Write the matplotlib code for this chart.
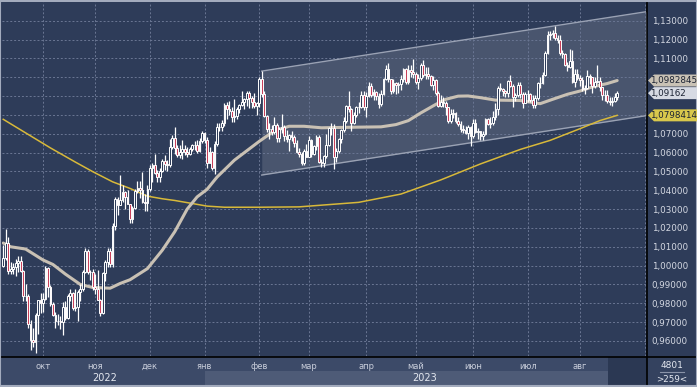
import matplotlib
matplotlib.use("Agg")
import matplotlib.pyplot as plt
from matplotlib.patches import Rectangle, Polygon

# daily EUR/USD candles, 9 Sep 2022 .. 22 Aug 2023 (index = trading day)
first_open = 1.0000
closes = [
    1.0042, 1.0120, 0.9970, 0.9980, 0.9995, 1.0015, 1.0025, 0.9970, 0.9840, 0.9837, 0.9690, 0.9607, 0.9595, 0.9736, 0.9815, 0.9802,
    0.9825, 0.9988, 0.9885, 0.9795, 0.9740, 0.9705, 0.9707, 0.9702, 0.9780, 0.9722, 0.9840, 0.9857, 0.9776, 0.9781, 0.9861, 0.9877, 0.9964, 1.0078, 0.9965, 0.9965, 0.9884,
    0.9876, 0.9820, 0.9750, 0.9960, 1.0020, 1.0075, 1.0010, 1.0210, 1.0355, 1.0324, 1.0350, 1.0390, 1.0363, 1.0325, 1.0245, 1.0305, 1.0397, 1.0410, 1.0400, 1.0340, 1.0330, 1.0405,
    1.0520, 1.0535, 1.0490, 1.0468, 1.0505, 1.0555, 1.0540, 1.0535, 1.0630, 1.0680, 1.0625, 1.0585, 1.0605, 1.0620, 1.0605, 1.0595, 1.0620, 1.0640, 1.0640, 1.0610, 1.0660, 1.0705,
    1.0665, 1.0545, 1.0605, 1.0520, 1.0645, 1.0735, 1.0735, 1.0760, 1.0855, 1.0830, 1.0820, 1.0790, 1.0795, 1.0830, 1.0855, 1.0870, 1.0885, 1.0915, 1.0890, 1.0870, 1.0850, 1.0865,
    1.0990, 1.0910, 1.0795, 1.0725, 1.0725, 1.0710, 1.0745, 1.0680, 1.0725, 1.0735, 1.0690, 1.0675, 1.0695, 1.0685, 1.0650, 1.0605, 1.0595, 1.0545, 1.0610, 1.0575,
    1.0665, 1.0595, 1.0635, 1.0685, 1.0550, 1.0545, 1.0580, 1.0640, 1.0730, 1.0730, 1.0575, 1.0610, 1.0670, 1.0720, 1.0770, 1.0850, 1.0830, 1.0760, 1.0800, 1.0845, 1.0840, 1.0905, 1.0840,
    1.0900, 1.0955, 1.0905, 1.0920, 1.0900, 1.0860, 1.0910, 1.0990, 1.1045, 1.0990, 1.0925, 1.0970, 1.0960, 1.0965, 1.0990, 1.1045, 1.0975, 1.1040, 1.1030, 1.1020,
    1.0975, 1.0995, 1.1065, 1.1010, 1.1020, 1.1005, 1.0960, 1.0985, 1.0915, 1.0850, 1.0870, 1.0865, 1.0840, 1.0770, 1.0805, 1.0810, 1.0770, 1.0750, 1.0725, 1.0720, 1.0705, 1.0735, 1.0690,
    1.0760, 1.0710, 1.0715, 1.0690, 1.0700, 1.0780, 1.0750, 1.0755, 1.0790, 1.0830, 1.0945, 1.0940, 1.0925, 1.0915, 1.0980, 1.0955, 1.0895, 1.0905, 1.0960, 1.0910, 1.0865, 1.0910,
    1.0910, 1.0880, 1.0855, 1.0890, 1.0970, 1.0970, 1.1010, 1.1130, 1.1225, 1.1230, 1.1235, 1.1210, 1.1200, 1.1130, 1.1125, 1.1065, 1.1055, 1.1085, 1.0975, 1.1015, 1.0995,
    1.0985, 1.0940, 1.0945, 1.1005, 1.1000, 1.0955, 1.0975, 1.0980, 1.0950, 1.0905, 1.0905, 1.0875, 1.0870, 1.0875, 1.0895, 1.0916,
]
highs = [
    1.0110, 1.0197, 1.0150, 1.0020, 1.0015, 1.0035, 1.0050, 1.0050, 0.9975, 0.9905, 0.9850, 0.9710, 0.9670, 0.9750, 0.9820, 0.9855,
    0.9855, 0.9999, 0.9995, 0.9895, 0.9805, 0.9755, 0.9745, 0.9730, 0.9806, 0.9810, 0.9850, 0.9875, 0.9860, 0.9875, 0.9870, 0.9900, 0.9975, 1.0093, 1.0088, 0.9975, 0.9980,
    0.9955, 0.9975, 0.9825, 0.9965, 1.0030, 1.0095, 1.0095, 1.0225, 1.0365, 1.0365, 1.0481, 1.0430, 1.0395, 1.0400, 1.0325, 1.0315, 1.0405, 1.0450, 1.0450, 1.0495, 1.0380, 1.0430,
    1.0535, 1.0545, 1.0595, 1.0510, 1.0520, 1.0565, 1.0590, 1.0560, 1.0673, 1.0695, 1.0736, 1.0640, 1.0640, 1.0665, 1.0640, 1.0630, 1.0630, 1.0645, 1.0660, 1.0665, 1.0680, 1.0715,
    1.0710, 1.0685, 1.0630, 1.0610, 1.0660, 1.0760, 1.0760, 1.0775, 1.0865, 1.0870, 1.0875, 1.0845, 1.0887, 1.0845, 1.0860, 1.0925, 1.0890, 1.0925, 1.0930, 1.0900, 1.0915, 1.0870,
    1.1000, 1.1033, 1.0925, 1.0800, 1.0760, 1.0745, 1.0790, 1.0760, 1.0735, 1.0805, 1.0745, 1.0720, 1.0700, 1.0715, 1.0695, 1.0665, 1.0625, 1.0605, 1.0620, 1.0645,
    1.0690, 1.0670, 1.0640, 1.0695, 1.0695, 1.0565, 1.0590, 1.0700, 1.0735, 1.0760, 1.0750, 1.0625, 1.0680, 1.0725, 1.0790, 1.0855, 1.0930, 1.0835, 1.0815, 1.0850, 1.0870, 1.0925, 1.0925,
    1.0920, 1.0973, 1.0970, 1.0940, 1.0925, 1.0915, 1.0935, 1.0995, 1.1065, 1.1075, 1.0990, 1.0990, 1.0975, 1.0975, 1.1010, 1.1050, 1.1050, 1.1065, 1.1065, 1.1095,
    1.1030, 1.1015, 1.1075, 1.1092, 1.1055, 1.1055, 1.1010, 1.1005, 1.0990, 1.0925, 1.0905, 1.0895, 1.0875, 1.0845, 1.0830, 1.0830, 1.0815, 1.0790, 1.0770, 1.0745, 1.0740, 1.0745, 1.0740,
    1.0780, 1.0780, 1.0730, 1.0715, 1.0715, 1.0785, 1.0785, 1.0790, 1.0820, 1.0865, 1.0955, 1.0970, 1.0945, 1.0935, 1.0985, 1.1010, 1.0965, 1.0915, 1.0975, 1.0975, 1.0920, 1.0920,
    1.0935, 1.0915, 1.0905, 1.0905, 1.0975, 1.1000, 1.1030, 1.1140, 1.1245, 1.1245, 1.1250, 1.1275, 1.1225, 1.1225, 1.1145, 1.1130, 1.1080, 1.1150, 1.1145, 1.1045, 1.1045,
    1.1010, 1.1000, 1.0960, 1.1040, 1.1020, 1.1000, 1.1000, 1.1065, 1.1000, 1.0950, 1.0935, 1.0935, 1.0895, 1.0895, 1.0915, 1.0925,
]
lows = [
    0.9990, 1.0030, 0.9955, 0.9955, 0.9955, 0.9945, 0.9965, 0.9965, 0.9810, 0.9810, 0.9670, 0.9550, 0.9570, 0.9536, 0.9635, 0.9750,
    0.9755, 0.9815, 0.9835, 0.9785, 0.9730, 0.9670, 0.9685, 0.9665, 0.9632, 0.9710, 0.9715, 0.9810, 0.9765, 0.9760, 0.9705, 0.9810, 0.9865, 0.9960, 0.9955, 0.9925, 0.9870,
    0.9850, 0.9815, 0.9730, 0.9745, 0.9920, 0.9995, 0.9990, 0.9990, 1.0190, 1.0270, 1.0320, 1.0340, 1.0300, 1.0325, 1.0225, 1.0225, 1.0300, 1.0385, 1.0360, 1.0330, 1.0290, 1.0290,
    1.0395, 1.0445, 1.0485, 1.0445, 1.0445, 1.0495, 1.0510, 1.0505, 1.0525, 1.0620, 1.0595, 1.0575, 1.0570, 1.0565, 1.0585, 1.0575, 1.0585, 1.0610, 1.0615, 1.0600, 1.0605, 1.0650,
    1.0650, 1.0520, 1.0545, 1.0510, 1.0485, 1.0635, 1.0715, 1.0715, 1.0740, 1.0780, 1.0800, 1.0765, 1.0765, 1.0780, 1.0810, 1.0850, 1.0830, 1.0850, 1.0835, 1.0835, 1.0835, 1.0800,
    1.0845, 1.0895, 1.0790, 1.0710, 1.0670, 1.0695, 1.0700, 1.0655, 1.0655, 1.0705, 1.0660, 1.0655, 1.0610, 1.0660, 1.0630, 1.0600, 1.0575, 1.0535, 1.0535, 1.0575,
    1.0575, 1.0575, 1.0585, 1.0615, 1.0545, 1.0525, 1.0525, 1.0570, 1.0635, 1.0695, 1.0515, 1.0550, 1.0600, 1.0650, 1.0710, 1.0760, 1.0815, 1.0715, 1.0750, 1.0790, 1.0810, 1.0835, 1.0825,
    1.0790, 1.0895, 1.0895, 1.0880, 1.0880, 1.0835, 1.0850, 1.0905, 1.0985, 1.0975, 1.0910, 1.0915, 1.0910, 1.0915, 1.0935, 1.0975, 1.0965, 1.0965, 1.1000, 1.0995,
    1.0965, 1.0940, 1.0985, 1.1000, 1.0990, 1.0990, 1.0955, 1.0935, 1.0905, 1.0845, 1.0845, 1.0845, 1.0800, 1.0760, 1.0760, 1.0785, 1.0760, 1.0740, 1.0710, 1.0705, 1.0700, 1.0675, 1.0635,
    1.0680, 1.0705, 1.0675, 1.0665, 1.0665, 1.0695, 1.0745, 1.0730, 1.0745, 1.0775, 1.0800, 1.0925, 1.0900, 1.0895, 1.0895, 1.0950, 1.0845, 1.0875, 1.0895, 1.0890, 1.0835, 1.0865,
    1.0870, 1.0870, 1.0835, 1.0835, 1.0880, 1.0945, 1.0965, 1.1005, 1.1125, 1.1200, 1.1210, 1.1200, 1.1180, 1.1120, 1.1100, 1.1060, 1.1035, 1.1050, 1.0970, 1.0950, 1.0985,
    1.0955, 1.0925, 1.0910, 1.0940, 1.0965, 1.0915, 1.0945, 1.0970, 1.0925, 1.0880, 1.0875, 1.0865, 1.0855, 1.0850, 1.0870, 1.0880,
]
# forex candles open at the previous close
opens = [first_open] + closes[:-1]

# moving averages (trading-day index, value)
sma50_idx = [0, 3, 9, 16, 20, 25, 31, 36, 43, 47, 51, 58, 64, 69, 74, 78, 82, 86, 93, 99, 103, 109, 115,
             121, 128, 141, 152, 158, 163, 168, 174, 178, 183, 187, 192, 198, 208, 216, 221, 227, 232, 237, 243, 247]
sma50 = [1.0120, 1.0100, 1.0088, 1.0030, 1.0006, 0.9955, 0.9900, 0.9884, 0.9880, 0.9905, 0.9925, 0.9984, 1.0082,
         1.0180, 1.0300, 1.0365, 1.0405, 1.0470, 1.0560, 1.0620, 1.0660, 1.0715, 1.0740, 1.0740, 1.0732, 1.0735,
         1.0737, 1.0749, 1.0770, 1.0811, 1.0856, 1.0883, 1.0900, 1.0901, 1.0892, 1.0879, 1.0877, 1.0860, 1.0883,
         1.0910, 1.0927, 1.0949, 1.0967, 1.0983]
sma200_idx = [0, 9, 19, 29, 36, 44, 51, 58, 64, 69, 76, 82, 89, 103, 119, 143, 160, 176, 192, 208, 220, 232, 240, 247]
sma200 = [1.0777, 1.0705, 1.0625, 1.0550, 1.0499, 1.0445, 1.0410, 1.0369, 1.0355, 1.0346, 1.0330, 1.0316, 1.0310,
          1.0310, 1.0312, 1.0336, 1.0380, 1.0455, 1.0540, 1.0617, 1.0665, 1.0727, 1.0770, 1.0798]

# regression channel
chan_idx = [104, 259]
chan_upper = [1.1033, 1.1349]
chan_lower = [1.0481, 1.0797]

month_idx = [16, 37, 59, 81, 103, 123, 146, 166, 189, 211, 232]
month_lbl = ['окт', 'ноя', 'дек', 'янв', 'фев', 'мар', 'апр', 'май', 'июн', 'июл', 'авг']
price_ticks = [0.96 + 0.01 * k for k in range(18)]
hidden_ticks = [1.08, 1.09, 1.10]   # covered by the value tags

BG = '#2e3c59'
GRID = '#6a7693'
W, H = 697, 387

plt.rcParams['font.family'] = 'DejaVu Sans'
fig = plt.figure(figsize=(W / 100, H / 100), dpi=100)
fig.patch.set_facecolor(BG)

# overlay in pixel coordinates for the frame pieces
ov = fig.add_axes([0, 0, 1, 1])
ov.set_xlim(0, W)
ov.set_ylim(H, 0)
ov.axis('off')
ov.set_zorder(0)

ax = fig.add_axes([2 / W, (H - 356) / H, 644 / W, 354 / H])
ax.set_zorder(1)
ax.set_facecolor(BG)
ax.set_xlim(-0.5, 258.6)
ax.set_ylim(0.9520, 1.1400)
for s in ax.spines.values():
    s.set_visible(False)

# top overlay for the value tags
top = fig.add_axes([0, 0, 1, 1])
top.set_xlim(0, W)
top.set_ylim(H, 0)
top.axis('off')
top.set_zorder(2)

ax.set_yticks(price_ticks)
ax.set_yticklabels(['' if any(abs(v - h) < 1e-6 for h in hidden_ticks)
                    else ('%.5f' % v).replace('.', ',') for v in price_ticks])
ax.yaxis.tick_right()
ax.tick_params(axis='y', length=0, pad=4, labelsize=6.3, labelcolor='#d4d8e2')
ax.set_xticks(month_idx)
ax.set_xticklabels(month_lbl)
ax.tick_params(axis='x', length=0, pad=4, labelsize=6, labelcolor='#c9cedb')
ax.grid(True, color=GRID, lw=0.7, ls=(0, (2, 2)))
ax.axvline(258, color=GRID, lw=0.7, ls=(0, (2, 2)))

# channel
ax.fill_between(chan_idx, chan_lower, chan_upper, color='#ffffff', alpha=0.13, lw=0)
ax.plot(chan_idx, chan_upper, color='#9aa2b4', lw=1)
ax.plot(chan_idx, chan_lower, color='#9aa2b4', lw=1)

# moving averages
ax.plot(sma200_idx, sma200, color='#d8b93a', lw=1.1, zorder=3)
ax.plot(sma50_idx, sma50, color='#c9c1b4', lw=2.2, zorder=3, solid_capstyle='round')

# candles
idx = list(range(len(closes)))
ax.vlines(idx, lows, highs, color='white', lw=0.9, zorder=4)
for i in idx:
    o, c = opens[i], closes[i]
    fc = '#c8405a' if c < o else BG
    ax.bar(i, abs(c - o), bottom=min(o, c), width=0.7, color=fc,
           edgecolor='white', linewidth=0.7, zorder=5)

# frame: separators, bottom bands, right box
ov.add_patch(Rectangle((0, 357), 608, 28, color='#3c4a68', lw=0))
ov.add_patch(Rectangle((205, 371), 403, 14, color='#4e5b77', lw=0))
ov.add_patch(Rectangle((608, 357), 38, 28, color='#2b3853', lw=0))
ov.add_patch(Rectangle((647, 357), 50, 28, color='#34425f', lw=0))
ov.plot([0, W], [356.5, 356.5], color='black', lw=1.2)
ov.plot([646.5, 646.5], [0, H], color='black', lw=1.2)
ov.plot([0, W, W, 0, 0], [H - 1, H - 1, 0.5, 0.5, H - 1], color='#a3abbd', lw=1.5)
ov.text(105, 378, '2022', color='#e4e8f0', fontsize=7, ha='center', va='center')
ov.text(425, 378, '2023', color='#e4e8f0', fontsize=7, ha='center', va='center')
ov.text(672, 366, '4801', color='#e4e8f0', fontsize=6.5, ha='center', va='center')
ov.plot([660, 684], [372, 372], color='#8a93a8', lw=0.8)
ov.text(672, 379, '>259<', color='#e4e8f0', fontsize=6.3, ha='center', va='center')
ov.text(628, 350, '10', color='#e4e8f0', fontsize=6.5, ha='center', va='center')
ov.add_patch(Polygon([[613, 355], [617, 350], [621, 355]], color='#6b768f', lw=0))

# title
ov.text(3, 9, 'EUR/USD 1D High = 1,12752 Low = 0,95362', color='#eef1f6', fontsize=6.4, va='center')
ov.text(193, 9, 'SMA200 1,079841475', color='#e6c04a', fontsize=6.4, va='center')
ov.text(297, 9, 'SMA50 1,0982845', color='#c8c6c2', fontsize=6.4, va='center')


def tag(value, text, fc):
    y = H - ax.transData.transform((0, value))[1]
    top.add_patch(Polygon([[648, y], [654, y - 6], [W, y - 6], [W, y + 6], [654, y + 6]],
                          color=fc, lw=0, zorder=5))
    top.text(650, y, text, color='#1c2333', fontsize=6.3, va='center', zorder=6)


tag(sma50[-1], '1,0982845', '#c9c2b5')
tag(closes[-1], '1,09162', '#d6dae3')
tag(sma200[-1], '1,0798414', '#d9c84c')

fig.savefig('out.png', dpi=100, facecolor=BG)
